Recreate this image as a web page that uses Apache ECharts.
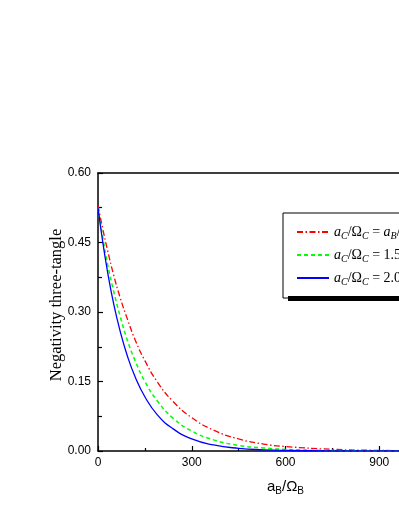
<!DOCTYPE html>
<html>
<head>
<meta charset="utf-8">
<script src="https://cdn.jsdelivr.net/npm/echarts@6/dist/echarts.min.js"></script>
<style>
  html, body { margin: 0; padding: 0; background: #fff; }
  #chart { width: 399px; height: 516px; }
</style>
</head>
<body>
<div id="chart"></div>
<script>
// values
const xValues = [0, 15, 30, 50, 70, 95, 120, 150, 190, 240, 300, 370, 450, 530, 600, 750, 900, 1050, 1200]
const redValues = [0.530, 0.480, 0.435, 0.380, 0.333, 0.283, 0.238, 0.195, 0.149, 0.107, 0.072, 0.045, 0.026, 0.015, 0.0097, 0.0036, 0.0013, 0.0005, 0.0002]
const greenValues = [0.525, 0.462, 0.405, 0.345, 0.293, 0.237, 0.193, 0.150, 0.108, 0.071, 0.043, 0.024, 0.012, 0.0065, 0.0035, 0.001, 0.0003, 0.0001, 0]
const blueValues = [0.525, 0.452, 0.389, 0.318, 0.261, 0.203, 0.158, 0.117, 0.078, 0.048, 0.026, 0.013, 0.0058, 0.0026, 0.0013, 0.0003, 0.0001, 0, 0]
const seriesNames = ['eq', 'x15', 'x20']
const legendLabels = {
  eq: '{i|a}{s|C}{n|/Ω}{s|C}{n| = }{i|a}{s|B}{n|/Ω}{s|B}',
  x15: '{i|a}{s|C}{n|/Ω}{s|C}{n| = 1.5 }{i|a}{s|B}{n|/Ω}{s|B}',
  x20: '{i|a}{s|C}{n|/Ω}{s|C}{n| = 2.0 }{i|a}{s|B}{n|/Ω}{s|B}'
}

const pairs = ys => xValues.map((x, i) => [x, ys[i]])
const serif = "'Liberation Serif', 'Times New Roman', serif"
const sans = "'Liberation Sans', Arial, sans-serif"

const chart = echarts.init(document.getElementById('chart'))

const axisLine = { show: true, lineStyle: { color: '#000', width: 1.5 } }

chart.setOption({
  animation: false,
  backgroundColor: '#fff',
  // the plot box runs past the right edge of the picture
  grid: { left: 98, top: 173, width: 375, height: 278, outerBoundsMode: 'none', containLabel: false },
  graphic: [{
    // drop shadow of the legend box
    type: 'rect', z: 100, zlevel: 0, silent: true,
    shape: { x: 288, y: 296, width: 200, height: 5 },
    style: { fill: '#000' }
  }],
  legend: {
    data: seriesNames,
    orient: 'vertical',
    left: 283,
    top: 213,
    padding: [12, 80, 11, 13],
    itemGap: 7,
    itemWidth: 32,
    itemHeight: 16,
    itemStyle: { opacity: 0 },
    backgroundColor: '#fff',
    borderColor: '#000',
    borderWidth: 1,
    borderRadius: 0,
    formatter: name => legendLabels[name],
    textStyle: {
      color: '#000',
      rich: {
        i: { fontFamily: serif, fontSize: 14, fontStyle: 'italic', color: '#000' },
        n: { fontFamily: serif, fontSize: 14, color: '#000' },
        s: { fontFamily: serif, fontSize: 10, fontStyle: 'italic', color: '#000', padding: [8, 0, 0, 0] }
      }
    }
  },
  xAxis: [{
    type: 'value',
    min: 0,
    max: 1200,
    interval: 300,
    name: 'a{s|B}/Ω{s|B}',
    nameLocation: 'middle',
    nameGap: 27,
    nameMoveOverlap: false,
    nameTextStyle: {
      fontFamily: sans,
      fontSize: 15,
      color: '#000',
      rich: { s: { fontFamily: sans, fontSize: 10, color: '#000', padding: [8, 0, 0, 0] } }
    },
    axisLine: axisLine,
    axisTick: { inside: true, length: 5, lineStyle: { color: '#000', width: 1.2 } },
    minorTick: { show: true, splitNumber: 2, length: 3, lineStyle: { color: '#000', width: 1.2 } },
    axisLabel: { fontFamily: sans, fontSize: 12, color: '#000', margin: 6 },
    splitLine: { show: false }
  }, {
    type: 'value',
    position: 'top',
    min: 0,
    max: 1200,
    axisLine: axisLine,
    axisTick: { show: false },
    axisLabel: { show: false },
    splitLine: { show: false }
  }],
  yAxis: {
    type: 'value',
    min: 0,
    max: 0.6,
    interval: 0.15,
    name: 'Negativity three-tangle',
    nameLocation: 'middle',
    nameGap: 33,
    nameMoveOverlap: false,
    nameTextStyle: { fontFamily: serif, fontSize: 16.5, color: '#000', padding: [0, 0, 0, 14] },
    axisLine: axisLine,
    axisTick: { inside: true, length: 5, lineStyle: { color: '#000', width: 1.2 } },
    minorTick: { show: true, splitNumber: 2, length: 4, lineStyle: { color: '#000', width: 1.2 } },
    axisLabel: { fontFamily: sans, fontSize: 12, color: '#000', margin: 7, formatter: v => v.toFixed(2) },
    splitLine: { show: false }
  },
  series: [
    {
      name: 'eq', type: 'line', smooth: true, symbol: 'none', data: pairs(redValues),
      lineStyle: { color: '#ff0000', width: 1.3, type: [6, 2.5, 1.5, 2.5] }, itemStyle: { color: '#ff0000' }
    },
    {
      name: 'x15', type: 'line', smooth: true, symbol: 'none', data: pairs(greenValues),
      lineStyle: { color: '#00ff00', width: 1.5, type: [4, 3] }, itemStyle: { color: '#00ff00' }
    },
    {
      name: 'x20', type: 'line', smooth: true, symbol: 'none', data: pairs(blueValues),
      lineStyle: { color: '#0000ff', width: 1.3 }, itemStyle: { color: '#0000ff' }
    }
  ]
})
</script>
</body>
</html>
